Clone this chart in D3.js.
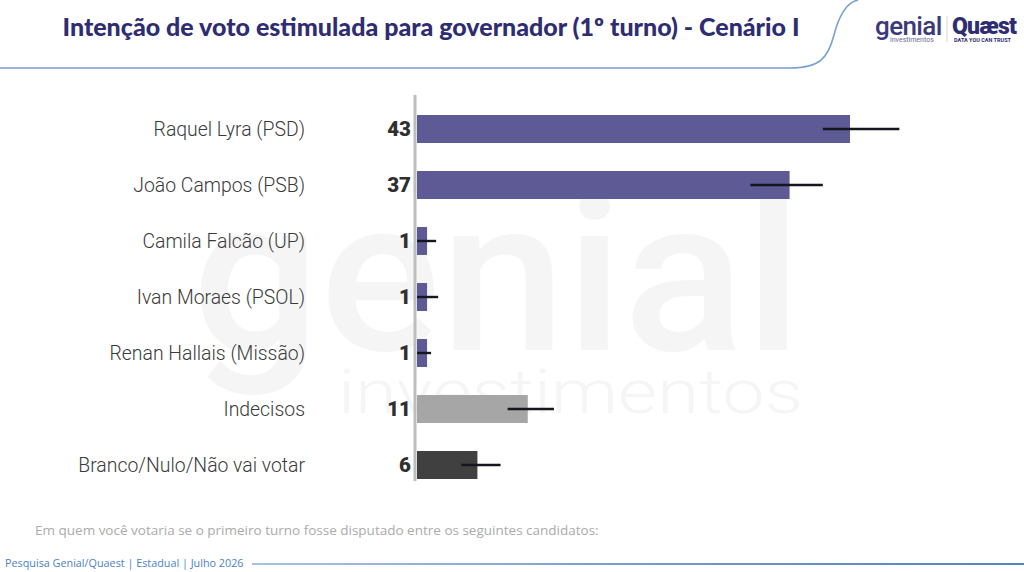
<!DOCTYPE html>
<html>
<head>
<meta charset="utf-8">
<script src="https://cdn.jsdelivr.net/npm/d3@7"></script>
<style>
  body { margin: 0; background: #fff; }
  svg { display: block; }
</style>
</head>
<body>
<div id="chart"></div>
<script>
// Data
const candidates = ["Raquel Lyra (PSD)", "João Campos (PSB)", "Camila Falcão (UP)", "Ivan Moraes (PSOL)",
                    "Renan Hallais (Missão)", "Indecisos", "Branco/Nulo/Não vai votar"];
const values = [43, 37, 1, 1, 1, 11, 6];
const errLow = [40.3, 33.1, 0, 0, 0, 9, 4.4];
const errHigh = [47.9, 40.3, 1.9, 2.1, 1.4, 13.6, 8.3];
const groups = ["cand", "cand", "cand", "cand", "cand", "undecided", "blank"];

const title = "Intenção de voto estimulada para governador (1º turno) - Cenário I";
const question = "Em quem você votaria se o primeiro turno fosse disputado entre os seguintes candidatos:";
const source = "Pesquisa Genial/Quaest | Estadual | Julho 2026";

const width = 1024, height = 572;

const svg = d3.select("#chart").append("svg")
    .attr("width", width)
    .attr("height", height);

const defs = svg.append("defs");
const grad = defs.append("linearGradient").attr("id", "footGrad")
    .attr("gradientUnits", "userSpaceOnUse")
    .attr("x1", 252).attr("x2", 1024).attr("y1", 0).attr("y2", 0);
grad.append("stop").attr("offset", "0%").attr("stop-color", "#a9c2e2");
grad.append("stop").attr("offset", "55%").attr("stop-color", "#7198c9");
grad.append("stop").attr("offset", "100%").attr("stop-color", "#5583bf");

// Header curve
svg.append("path")
    .attr("d", "M0,68 L790,68 C820,68 828,58 834,35 C840,12 848,2 858,0")
    .attr("fill", "none")
    .attr("stroke", "#7aa0d0")
    .attr("stroke-width", 1.6);

svg.append("text")
    .attr("x", 431)
    .attr("y", 36)
    .attr("text-anchor", "middle")
    .attr("font-family", "Lato, 'Open Sans', sans-serif")
    .attr("font-weight", 900)
    .attr("font-size", 25)
    .attr("fill", "#2e2c72")
    .text(title);

// Logos as text
const logo = svg.append("g").attr("font-family", "Roboto, sans-serif");
logo.append("text").attr("x", 875).attr("y", 35)
    .attr("font-size", 26).attr("font-weight", 500).attr("fill", "#3a3a7a")
    .attr("letter-spacing", -0.6).text("genial");
logo.append("text").attr("x", 890).attr("y", 42)
    .attr("font-size", 7).attr("fill", "#6a6a90").text("investimentos");
logo.append("line").attr("x1", 947).attr("x2", 947).attr("y1", 16).attr("y2", 42)
    .attr("stroke", "#ccc").attr("stroke-width", 0.8);
logo.append("text").attr("x", 952).attr("y", 34)
    .attr("font-size", 23).attr("font-weight", 900).attr("fill", "#2e2c72")
    .attr("letter-spacing", -0.8).text("Quæst");
logo.append("text").attr("x", 954).attr("y", 42)
    .attr("font-size", 5.5).attr("font-weight", 700).attr("fill", "#2e2c72").text("DATA YOU CAN TRUST");

// Watermark
const wm = svg.append("g").attr("font-family", "Roboto, sans-serif").attr("fill", "#f5f5f5");
wm.append("text").attr("x", 192).attr("y", 350)
    .attr("font-size", 215).attr("font-weight", 500)
    .attr("textLength", 610).attr("lengthAdjust", "spacingAndGlyphs").text("genial");
wm.append("text").attr("x", 338).attr("y", 413)
    .attr("font-size", 62).attr("font-weight", 300)
    .attr("textLength", 465).attr("lengthAdjust", "spacingAndGlyphs").text("investimentos");

// Scales
const x = d3.scaleLinear().domain([0, 50]).range([417, 920.5]);
const y = d3.scaleBand().domain(candidates).range([101, 493]).paddingInner(0.5).paddingOuter(0.25);
const color = d3.scaleOrdinal().domain(["cand", "undecided", "blank"]).range(["#5d5a95", "#a6a6a6", "#404040"]);

const rows = candidates.map((c, i) => ({ name: c, value: values[i], lo: errLow[i], hi: errHigh[i], group: groups[i] }));

svg.append("g").selectAll("rect")
    .data(rows)
    .join("rect")
    .attr("x", x(0))
    .attr("y", d => y(d.name))
    .attr("width", d => x(d.value) - x(0))
    .attr("height", y.bandwidth())
    .attr("fill", d => color(d.group));

// Axis line
svg.append("line")
    .attr("x1", 415).attr("x2", 415)
    .attr("y1", 95).attr("y2", 481)
    .attr("stroke", "#bdbdbd")
    .attr("stroke-width", 3);

// Error bars
svg.append("g").selectAll("line")
    .data(rows)
    .join("line")
    .attr("x1", d => Math.max(x(d.lo), 416))
    .attr("x2", d => x(d.hi))
    .attr("y1", d => y(d.name) + y.bandwidth() / 2)
    .attr("y2", d => y(d.name) + y.bandwidth() / 2)
    .attr("stroke", "#161620")
    .attr("stroke-width", 2.4);

// Category labels
svg.append("g").selectAll("text")
    .data(rows)
    .join("text")
    .attr("x", 305)
    .attr("y", d => y(d.name) + y.bandwidth() / 2)
    .attr("dy", "0.36em")
    .attr("text-anchor", "end")
    .attr("font-family", "Roboto, sans-serif")
    .attr("font-weight", 300)
    .attr("font-size", 19.4)
    .attr("fill", "#3a3a3a")
    .text(d => d.name);

// Value labels
svg.append("g").selectAll("text")
    .data(rows)
    .join("text")
    .attr("x", 411)
    .attr("y", d => y(d.name) + y.bandwidth() / 2)
    .attr("dy", "0.36em")
    .attr("text-anchor", "end")
    .attr("font-family", "Roboto, sans-serif")
    .attr("font-weight", 900)
    .attr("font-size", 20.5)
    .attr("fill", "#2f2f2f")
    .text(d => d.value);

// Footer
svg.append("text")
    .attr("x", 35).attr("y", 535)
    .attr("font-family", "'Open Sans', sans-serif")
    .attr("font-size", 13.5)
    .attr("fill", "#ababab")
    .text(question);

svg.append("text")
    .attr("x", 5).attr("y", 567)
    .attr("font-family", "'Open Sans', sans-serif")
    .attr("font-size", 10.8)
    .attr("fill", "#4d82c2")
    .text(source);

svg.append("line")
    .attr("x1", 252).attr("x2", 1024)
    .attr("y1", 564).attr("y2", 564)
    .attr("stroke", "url(#footGrad)")
    .attr("stroke-width", 2);
</script>
</body>
</html>
